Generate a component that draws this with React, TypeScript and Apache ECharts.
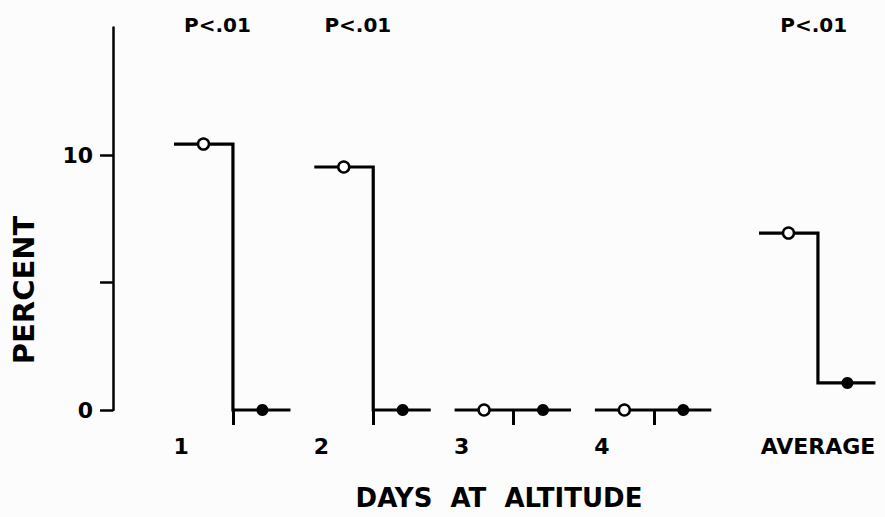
import React, { useEffect, useRef } from "react";
import * as echarts from "echarts";

// ---- data ----
const categories = ["1", "2", "3", "4", "AVERAGE"];
const groupPositions = [1, 2, 3, 4, 5.17];
const beforeValues = [10.43, 9.53, 0, 0, 6.94];
const afterValues = [0, 0, 0, 0, 1.06];
const significance = ["P<.01", "P<.01", "", "", "P<.01"];
const tickedGroups = [true, true, true, true, false];
const yTickValues = [0, 5, 10];
const yLabelValues = [0, 10];
const yMax = 15;

// ---- style ----
const INK = "#000";
const FONT = "'DejaVu Sans', 'Liberation Sans', sans-serif";
const HALF_LEFT = 0.42;
const HALF_RIGHT = 0.41;
const MARK_OFF = 0.21;
const DAY_LABEL_OFF = -0.37;

export default function App() {
  const ref = useRef<HTMLDivElement>(null);

  useEffect(() => {
    if (!ref.current) return;
    const chart = echarts.init(ref.current, undefined, { renderer: "svg" });

    const isAvg = (i: number) => categories[i] === "AVERAGE";
    const labelPositions = groupPositions.map((p, i) => (isAvg(i) ? p : p + DAY_LABEL_OFF));

    const stepSeries = groupPositions.map((p, i) => ({
      type: "line",
      name: "step " + categories[i],
      data: [
        [p - HALF_LEFT, beforeValues[i]],
        [p, beforeValues[i]],
        [p, afterValues[i]],
        [p + HALF_RIGHT, afterValues[i]],
      ],
      symbol: "none",
      lineStyle: { color: INK, width: 3.2, cap: "butt", join: "miter" },
      silent: true,
      clip: false,
      z: 2,
    }));

    const option = {
      animation: false,
      backgroundColor: "#fcfcfc",
      grid: { left: 113, right: 0, top: 27.5, bottom: 107, containLabel: false },
      xAxis: {
        type: "value",
        min: 0.145,
        max: 5.648,
        splitLine: { show: false },
        axisLine: { show: false },
        axisTick: {
          show: true,
          customValues: groupPositions.filter((_, i) => tickedGroups[i]),
          length: 15,
          lineStyle: { color: INK, width: 3 },
        },
        axisLabel: {
          show: true,
          customValues: labelPositions,
          margin: 25,
          color: INK,
          fontFamily: FONT,
          fontWeight: "bold",
          fontSize: 22,
          formatter: (v: number) => {
            let best = 0;
            labelPositions.forEach((lp, i) => {
              if (Math.abs(lp - v) < Math.abs(labelPositions[best] - v)) best = i;
            });
            return categories[best];
          },
        },
        name: "DAYS  AT  ALTITUDE",
        nameLocation: "middle",
        nameGap: 75,
        nameTextStyle: { color: INK, fontFamily: FONT, fontWeight: "bold", fontSize: 26 },
      },
      yAxis: {
        type: "value",
        min: 0,
        max: yMax,
        splitLine: { show: false },
        axisLine: { show: true, lineStyle: { color: INK, width: 2.5 } },
        axisTick: {
          show: true,
          customValues: yTickValues,
          length: 13,
          lineStyle: { color: INK, width: 2.5 },
        },
        axisLabel: {
          show: true,
          customValues: yLabelValues,
          margin: 20,
          color: INK,
          fontFamily: FONT,
          fontWeight: "bold",
          fontSize: 22,
        },
      },
      graphic: [
        {
          type: "text",
          x: 24,
          y: 290,
          rotation: Math.PI / 2,
          style: {
            text: "PERCENT",
            fill: INK,
            font: `bold 29px ${FONT}`,
            align: "center",
            verticalAlign: "middle",
          },
        },
      ],
      series: [
        ...stepSeries,
        {
          type: "scatter",
          name: "before",
          data: groupPositions.map((p, i) => [p - MARK_OFF, beforeValues[i]]),
          symbol: "circle",
          symbolSize: 11,
          itemStyle: { color: "#fff", borderColor: INK, borderWidth: 2.5, opacity: 1 },
          clip: false,
          z: 5,
        },
        {
          type: "scatter",
          name: "after",
          data: groupPositions.map((p, i) => [p + MARK_OFF, afterValues[i]]),
          symbol: "circle",
          symbolSize: 12,
          itemStyle: { color: INK, opacity: 1 },
          clip: false,
          z: 5,
        },
        {
          type: "scatter",
          name: "significance",
          data: groupPositions
            .map((p, i) => ({ value: [isAvg(i) ? p - 0.03 : p - 0.11, yMax], text: significance[i] }))
            .filter((d) => d.text),
          symbolSize: 0,
          clip: false,
          itemStyle: { opacity: 1, color: INK },
          label: {
            show: true,
            position: "top",
            distance: -7,
            formatter: (params: any) => params.data.text,
            color: INK,
            opacity: 1,
            fontFamily: FONT,
            fontWeight: "bold",
            fontSize: 20,
          },
          z: 5,
        },
      ],
    };

    chart.setOption(option as any);
    return () => chart.dispose();
  }, []);

  return (
    <div
      ref={ref}
      style={{ position: "absolute", left: 0, top: 0, width: 885, height: 517 }}
    />
  );
}
